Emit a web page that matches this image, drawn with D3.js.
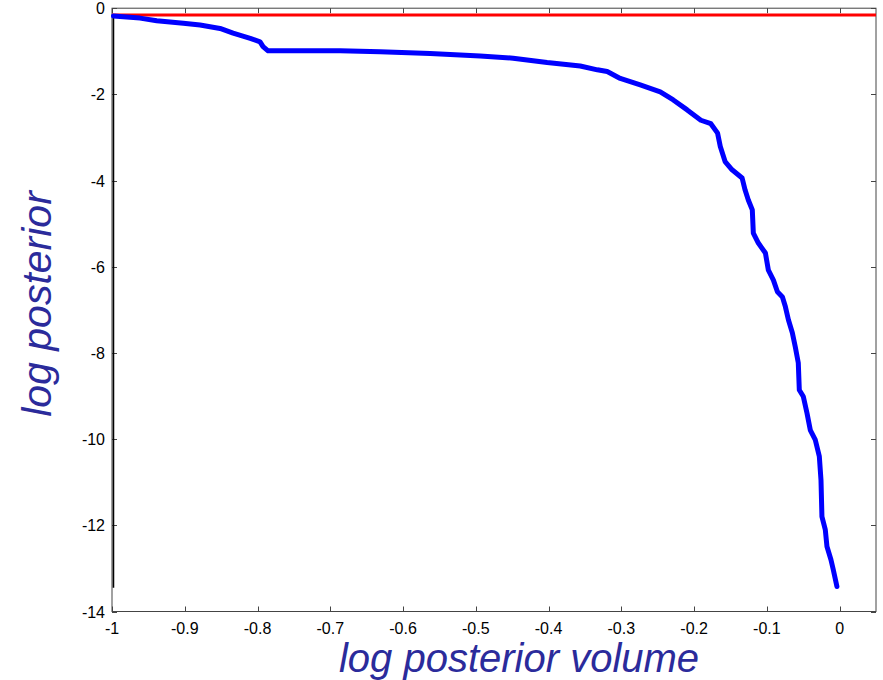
<!DOCTYPE html>
<html><head><meta charset="utf-8">
<script src="https://cdn.jsdelivr.net/npm/d3@7"></script>
<style>body{margin:0;background:#fff}svg{display:block}</style>
</head><body>
<svg id="c" width="883" height="680"></svg>
<script>
const curveX = [-0.998,-0.9615,-0.9385,-0.902,-0.879,-0.8515,-0.8336,-0.810,-0.7965,-0.7924,-0.7855,-0.6865,-0.6315,-0.5628,-0.494,-0.4487,-0.402,-0.3565,-0.333,-0.3194,-0.3015,-0.274,-0.2465,-0.2286,-0.2095,-0.1907,-0.177,-0.1677,-0.164,-0.1574,-0.1478,-0.134,-0.1299,-0.1255,-0.12,-0.1186,-0.1117,-0.102,-0.0979,-0.091,-0.0855,-0.0786,-0.0745,-0.0704,-0.065,-0.0609,-0.0568,-0.0554,-0.0499,-0.0448,-0.0403,-0.0334,-0.0279,-0.0256,-0.0243,-0.0197,-0.0174,-0.0119,-0.0087,-0.0037];
const curveY = [-0.18,-0.23,-0.29,-0.35,-0.39,-0.47,-0.58,-0.70,-0.78,-0.89,-0.99,-0.99,-1.01,-1.05,-1.11,-1.16,-1.26,-1.34,-1.43,-1.47,-1.63,-1.78,-1.94,-2.13,-2.36,-2.6,-2.68,-2.9,-3.21,-3.56,-3.75,-3.94,-4.22,-4.45,-4.68,-5.22,-5.45,-5.68,-6.08,-6.31,-6.58,-6.7,-6.93,-7.23,-7.53,-7.86,-8.23,-8.86,-9.01,-9.4,-9.79,-10.02,-10.4,-10.95,-11.8,-12.1,-12.49,-12.8,-13.03,-13.42];
const refLineY = -0.16;
const vLineX = -0.998;
const vLineY = [-0.16, -13.45];
const xTicks = [-1,-0.9,-0.8,-0.7,-0.6,-0.5,-0.4,-0.3,-0.2,-0.1,0];
const yTicks = [0,-2,-4,-6,-8,-10,-12,-14];
const xLabel = "log posterior volume";
const yLabel = "log posterior";

const svg = d3.select("#c");
const L=112, R=876, T=8.2, B=611.5;
const x = d3.scaleLinear().domain([-1,0.05]).range([L,R]);
const y = d3.scaleLinear().domain([-14,0]).range([B,T]);
const axisCol = "#444";
const font = "Arial, 'Liberation Sans', sans-serif";
const labCol = "#2b2b9b";

// box
svg.append("rect").attr("x",L).attr("y",T).attr("width",R-L).attr("height",B-T)
  .attr("fill","none").attr("stroke",axisCol).attr("stroke-width",1);

// ticks
const tl = 5;
const g = svg.append("g");
xTicks.forEach(v=>{
  const px = Math.round(x(v))+0.5;
  g.append("line").attr("x1",px).attr("x2",px).attr("y1",B).attr("y2",B-tl).attr("stroke",axisCol);
  g.append("line").attr("x1",px).attr("x2",px).attr("y1",T).attr("y2",T+tl).attr("stroke",axisCol);
  g.append("text").attr("x",x(v)).attr("y",B+22).attr("text-anchor","middle")
    .attr("font-family",font).attr("font-size",16).attr("fill","#000").text(String(v));
});
yTicks.forEach(v=>{
  const py = Math.round(y(v))+0.5;
  g.append("line").attr("x1",L).attr("x2",L+tl).attr("y1",py).attr("y2",py).attr("stroke",axisCol);
  g.append("line").attr("x1",R).attr("x2",R-tl).attr("y1",py).attr("y2",py).attr("stroke",axisCol);
  g.append("text").attr("x",L-7).attr("y",y(v)+6).attr("text-anchor","end")
    .attr("font-family",font).attr("font-size",16).attr("fill","#000").text(String(v));
});

// reference line
svg.append("line").attr("x1",x(-1)).attr("x2",x(0.05)).attr("y1",y(refLineY)).attr("y2",y(refLineY))
  .attr("stroke","#ff0000").attr("stroke-width",3);

// vertical black line
svg.append("line").attr("x1",x(vLineX)).attr("x2",x(vLineX)).attr("y1",y(vLineY[0])).attr("y2",y(vLineY[1]))
  .attr("stroke","#000").attr("stroke-width",1.6);

// curve
const pts = curveX.map((v,i)=>[v,curveY[i]]);
svg.append("path").attr("d",d3.line().x(d=>x(d[0])).y(d=>y(d[1]))(pts))
  .attr("fill","none").attr("stroke","#0000ff").attr("stroke-width",5).attr("stroke-linejoin","round").attr("stroke-linecap","round");

// labels
svg.append("text").attr("x",(335+703)/2).attr("y",672).attr("text-anchor","middle")
  .attr("font-family",font).attr("font-style","italic").attr("font-size",40).attr("fill",labCol).text(xLabel);
svg.append("text").attr("transform","translate(51,304) rotate(-90)").attr("text-anchor","middle")
  .attr("font-family",font).attr("font-style","italic").attr("font-size",41).attr("fill",labCol).text(yLabel);
</script>
</body></html>
